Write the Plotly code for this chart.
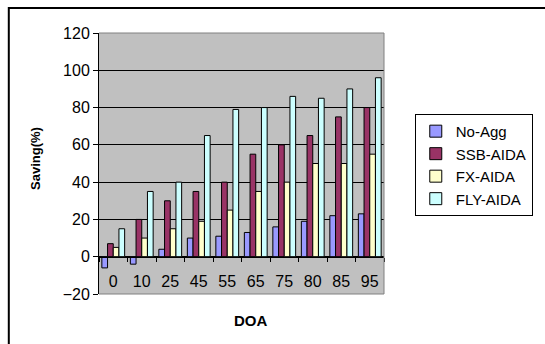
import plotly.graph_objects as go

# DOA categories and saving percentages per scheme
doa = ["0", "10", "25", "45", "55", "65", "75", "80", "85", "95"]
no_agg = [-6, -4, 4, 10, 11, 13, 16, 19, 22, 23]
ssb_aida = [7, 20, 30, 35, 40, 55, 60, 65, 75, 80]
fx_aida = [5, 10, 15, 19, 25, 35, 40, 50, 50, 55]
fly_aida = [15, 35, 40, 65, 79, 80, 86, 85, 90, 96]

series = [
    ("No-Agg", no_agg, "#9999FF"),
    ("SSB-AIDA", ssb_aida, "#993366"),
    ("FX-AIDA", fx_aida, "#FFFFCC"),
    ("FLY-AIDA", fly_aida, "#CCFFFF"),
]

y_min, y_max = -20, 120

fig = go.Figure()
for name, vals, color in series:
    fig.add_trace(go.Bar(
        name=name, x=doa, y=vals,
        marker=dict(color=color, line=dict(color="black", width=1)),
    ))

tick_font = dict(family="Arial", size=16, color="black")

fig.update_layout(
    width=545, height=344,
    margin=dict(l=99, r=149, t=33, b=50),
    paper_bgcolor="white",
    plot_bgcolor="#C0C0C0",
    barmode="group",
    bargap=0.2,
    bargroupgap=0,
    showlegend=True,
    legend=dict(
        x=1.108, y=0.69, xanchor="left", yanchor="top",
        bordercolor="black", borderwidth=1, bgcolor="white",
        font=dict(family="Arial", size=15, color="black"),
        tracegroupgap=0,
    ),
    xaxis=dict(
        type="category",
        anchor="free",
        position=(0 - y_min) / (y_max - y_min),
        showline=True, linecolor="black", linewidth=1,
        ticks="outside", tickson="boundaries", ticklen=4, tickcolor="black",
        ticklabelstandoff=10,
        showgrid=False, zeroline=False,
        tickfont=tick_font,
    ),
    yaxis=dict(
        range=[y_min, y_max], dtick=20,
        showline=True, linecolor="black", linewidth=1,
        ticks="outside", ticklen=5, tickcolor="black",
        showgrid=True, gridcolor="black", gridwidth=1,
        zeroline=False,
        tickfont=tick_font,
    ),
    annotations=[
        dict(text="<b>Saving(%)</b>", x=-0.225, y=0.521, xref="paper", yref="paper",
             xanchor="center", yanchor="middle",
             textangle=-90, showarrow=False,
             font=dict(family="Arial", size=13, color="black")),
        dict(text="<b>DOA</b>", x=0.532, y=-0.103, xref="paper", yref="paper",
             xanchor="center", yanchor="middle",
             showarrow=False,
             font=dict(family="Arial", size=15, color="black")),
    ],
    shapes=[
        # gray frame on the top, right and bottom of the plot area
        dict(type="line", xref="paper", yref="paper", x0=0, x1=1, y0=1, y1=1,
             line=dict(color="#808080", width=1), layer="above"),
        dict(type="line", xref="paper", yref="paper", x0=1, x1=1, y0=0, y1=1,
             line=dict(color="#808080", width=1), layer="above"),
        dict(type="line", xref="paper", yref="paper", x0=0, x1=1, y0=0, y1=0,
             line=dict(color="#808080", width=1), layer="above"),
        # outer chart border
        dict(type="rect", xref="paper", yref="paper",
             x0=-0.3165, x1=2.0, y0=-0.4, y1=1.096,
             line=dict(color="black", width=2), fillcolor="rgba(0,0,0,0)"),
    ],
)

fig.write_html("out.html")
